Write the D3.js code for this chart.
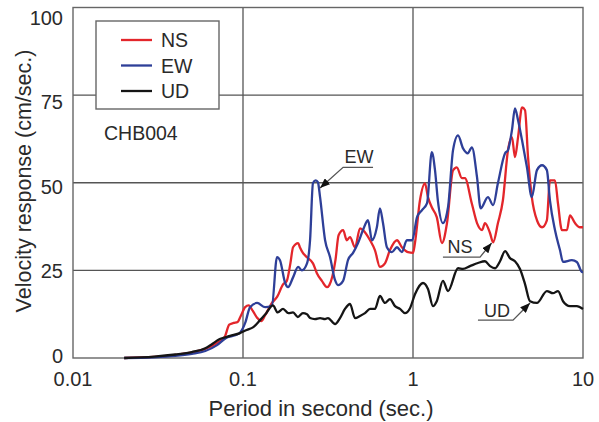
<!DOCTYPE html>
<html>
<head>
<meta charset="utf-8">
<script src="https://cdn.jsdelivr.net/npm/d3@7"></script>
<style>
  body { margin: 0; background: #fff; }
  text { font-family: "Liberation Sans", Arial, sans-serif; fill: #2a2a2a; }
</style>
</head>
<body>
<div id="chart"></div>
<script>
// period (sec.), velocity response (cm/sec.)
var ns = [[0.02,0],[0.03,0.3],[0.04,0.9],[0.05,1.6],[0.06,2.6],[0.07,4.2],[0.078,6],[0.083,9.5],[0.088,10],[0.093,10.3],
  [0.097,12],[0.103,14.5],[0.108,15],[0.114,13.5],[0.121,11.5],[0.128,10.5],[0.135,12.2],[0.148,15.7],[0.159,17.5],[0.172,21],
  [0.181,22],[0.19,27],[0.197,31.6],[0.211,32.8],[0.216,31.6],[0.225,30],[0.237,28.8],[0.258,27],[0.272,24.2],[0.291,22],
  [0.312,20.2],[0.322,20.8],[0.35,28],[0.365,35],[0.388,36.5],[0.408,33.6],[0.426,34.5],[0.456,31.6],[0.488,37],[0.508,36.5],
  [0.559,33.6],[0.597,30.8],[0.639,26],[0.684,27],[0.732,30.8],[0.805,33.6],[0.86,31.6],[0.935,30.2],[1.0,30],[1.027,32.8],
  [1.099,45],[1.176,49.8],[1.225,45.9],[1.29,43],[1.38,40.2],[1.48,32.8],[1.585,38.5],[1.719,53.5],[1.81,54.4],[1.94,51.3],
  [2.02,51.3],[2.22,44],[2.38,38.5],[2.55,36.5],[2.65,38.5],[2.84,35.6],[2.96,33],[3.16,38.5],[3.38,45],[3.62,59.3],
  [3.82,63],[3.98,57.3],[4.15,63],[4.38,71.5],[4.56,70.7],[4.75,57.3],[5.0,45.9],[5.36,39.3],[5.74,37.3],[6.13,39.3],
  [6.39,50.7],[6.84,50.7],[7.13,44],[7.52,36.5],[8.05,36.5],[8.38,40.7],[8.97,38.5],[9.6,37.3],[10,37.3]];

var ew = [[0.02,0],[0.03,0.2],[0.04,0.6],[0.05,1.2],[0.06,2],[0.07,3.6],[0.08,5.8],[0.09,6.5],[0.096,7.2],[0.103,10],
  [0.11,14.5],[0.121,15.7],[0.135,14.5],[0.148,15],[0.1585,28.8],[0.165,27.9],[0.177,21.4],[0.184,20.2],[0.197,23],[0.211,26],
  [0.222,25],[0.238,27],[0.248,33.6],[0.258,49.9],[0.268,50.7],[0.276,50.1],[0.284,45.9],[0.304,33.6],[0.325,28.8],[0.348,22.2],
  [0.362,20.8],[0.388,22],[0.415,28],[0.444,30],[0.475,32.8],[0.508,36.5],[0.5435,39.3],[0.574,33.6],[0.613,37.3],[0.639,42.7],
  [0.666,38.5],[0.702,31.6],[0.752,30.2],[0.805,31.6],[0.86,30.2],[0.92,33.6],[0.99,33.6],[1.056,40.2],[1.13,42.2],[1.21,44.2],
  [1.29,58.7],[1.347,53.6],[1.4,45],[1.5,38.5],[1.607,43],[1.72,59.3],[1.84,63.5],[1.97,59.8],[2.1,58.4],[2.22,60.1],
  [2.38,51.6],[2.5,42.7],[2.76,45.9],[2.96,43.6],[3.16,49.9],[3.48,58.4],[3.62,59.3],[3.82,65],[3.98,71.2],[4.15,67.8],
  [4.38,62.1],[4.68,54.4],[5.0,45.9],[5.36,53.6],[5.74,55],[6.13,53.6],[6.39,45],[6.84,36.5],[7.32,30.8],[7.63,27.4],
  [8.6,27.9],[9.2,27.4],[9.9,24.5],[10,24.5]];

var ud = [[0.02,0],[0.03,0.4],[0.04,1],[0.05,1.7],[0.06,2.8],[0.065,3.8],[0.073,5.4],[0.084,6.3],[0.096,7.1],[0.105,8],
  [0.115,8.8],[0.126,10.8],[0.137,12.8],[0.15,15],[0.16,13],[0.172,14],[0.185,12.8],[0.197,13],[0.21,11.7],[0.225,12.8],
  [0.238,12.5],[0.248,11.4],[0.265,11.1],[0.284,11.4],[0.304,11.1],[0.316,11.4],[0.348,9.7],[0.372,11.4],[0.398,14],[0.426,15.4],
  [0.456,11.4],[0.488,12],[0.522,12.8],[0.559,14],[0.597,14],[0.639,17.7],[0.684,15.7],[0.732,16.8],[0.784,14.8],[0.838,14],
  [0.897,12.8],[0.96,14.2],[1.027,18.2],[1.145,21.4],[1.225,19.7],[1.311,14.8],[1.38,16.2],[1.5,22],[1.607,19.1],[1.84,25.6],
  [1.968,25.4],[2.163,26.2],[2.41,27.1],[2.65,27.6],[2.84,26.2],[3.04,25.6],[3.25,27.6],[3.48,30.5],[3.72,28.5],[3.98,27.6],
  [4.26,25.4],[4.56,21.1],[4.88,16.2],[5.36,15.7],[6.13,19.1],[6.66,18.5],[7.13,19.1],[7.63,16.2],[8.38,14.8],[9.2,14.8],[10,14]];

var xTicks = [0.01, 0.1, 1, 10];
var xTickLabels = ["0.01", "0.1", "1", "10"];
var yTicks = [0, 25, 50, 75, 100];

var series = [
  {name: "NS", color: "#e3262b", data: ns},
  {name: "EW", color: "#2e3f98", data: ew},
  {name: "UD", color: "#151515", data: ud}
];

// arrows: tip, elbow, end of underline, text anchor (all in data units)
var notes = [
  {label: "EW", tip: [0.284, 48.5], elbow: [0.388, 54.4], end: [0.582, 54.4], at: [0.481, 55.6]},
  {label: "NS", tip: [2.9, 32.8], elbow: [2.48, 28.8], end: [1.5, 28.8], at: [1.89, 29.9]},
  {label: "UD", tip: [4.88, 15.7], elbow: [3.875, 10.8], end: [2.41, 10.8], at: [3.12, 11.7]}
];

var svg = d3.select("#chart")
  .append("svg")
  .attr("width", 599)
  .attr("height", 422);

var x = d3.scaleLog().domain([0.01, 10]).range([73, 583]);
var y = d3.scaleLinear().domain([0, 100]).range([358, 7.5]);
// tick labels in the reference sit on a slightly tighter spacing than the grid
var yLab = d3.scaleLinear().domain([0, 100]).range([356, 17.5]);

svg.append("defs").append("marker")
  .attr("id", "arrow")
  .attr("viewBox", "0 0 10 8")
  .attr("refX", 10).attr("refY", 4)
  .attr("markerWidth", 10).attr("markerHeight", 8)
  .attr("markerUnits", "userSpaceOnUse")
  .attr("orient", "auto")
  .append("path")
  .attr("d", "M0,0L10,4L0,8Z")
  .attr("fill", "#111");

// grid
svg.selectAll(".vgrid")
  .data([0.1, 1])
  .enter().append("line")
  .attr("x1", function(d){ return x(d); })
  .attr("x2", function(d){ return x(d); })
  .attr("y1", y(0)).attr("y2", y(100))
  .attr("stroke", "#555").attr("stroke-width", 1.3);

svg.selectAll(".hgrid")
  .data([25, 50, 75])
  .enter().append("line")
  .attr("x1", x(0.01)).attr("x2", x(10))
  .attr("y1", function(d){ return y(d); })
  .attr("y2", function(d){ return y(d); })
  .attr("stroke", "#555").attr("stroke-width", 1.3);

svg.append("rect")
  .attr("x", x(0.01)).attr("y", y(100))
  .attr("width", x(10) - x(0.01))
  .attr("height", y(0) - y(100))
  .attr("fill", "none")
  .attr("stroke", "#666").attr("stroke-width", 1.4);

// tick labels
svg.selectAll(".xlab")
  .data(xTicks)
  .enter().append("text")
  .attr("x", function(d){ return x(d); })
  .attr("y", 386)
  .attr("text-anchor", "middle")
  .style("font-size", "20px")
  .text(function(d, i){ return xTickLabels[i]; });

svg.selectAll(".ylab")
  .data(yTicks)
  .enter().append("text")
  .attr("x", 63)
  .attr("y", function(d){ return yLab(d) + 7; })
  .attr("text-anchor", "end")
  .style("font-size", "20px")
  .text(function(d){ return d; });

svg.append("text")
  .attr("x", 321).attr("y", 416)
  .attr("text-anchor", "middle")
  .style("font-size", "22px")
  .text("Period in second (sec.)");

svg.append("text")
  .attr("transform", "translate(31,181) rotate(-90)")
  .attr("text-anchor", "middle")
  .style("font-size", "21.5px")
  .text("Velocity response (cm/sec.)");

// curves
var line = d3.line()
  .x(function(d){ return x(d[0]); })
  .y(function(d){ return y(d[1]); })
  .curve(d3.curveMonotoneX);

svg.selectAll(".series")
  .data(series)
  .enter().append("path")
  .attr("d", function(d){ return line(d.data); })
  .attr("fill", "none")
  .attr("stroke", function(d){ return d.color; })
  .attr("stroke-width", 2.3)
  .attr("stroke-linejoin", "round");

// annotations
notes.forEach(function(n){
  svg.append("path")
    .attr("d", "M" + x(n.end[0]) + "," + y(n.end[1]) +
               "L" + x(n.elbow[0]) + "," + y(n.elbow[1]) +
               "L" + x(n.tip[0]) + "," + y(n.tip[1]))
    .attr("fill", "none")
    .attr("stroke", "#555")
    .attr("stroke-width", 1.3)
    .attr("marker-end", "url(#arrow)");
  svg.append("text")
    .attr("x", x(n.at[0])).attr("y", y(n.at[1]))
    .attr("text-anchor", "middle")
    .style("font-size", "18px")
    .text(n.label);
});

// legend
svg.append("rect")
  .attr("x", 96).attr("y", 21)
  .attr("width", 123).attr("height", 88)
  .attr("fill", "#fff")
  .attr("stroke", "#666").attr("stroke-width", 1.4);

var leg = svg.selectAll(".leg")
  .data(series)
  .enter().append("g")
  .attr("transform", function(d, i){ return "translate(0," + (40 + i * 25.5) + ")"; });

leg.append("line")
  .attr("x1", 121).attr("x2", 152)
  .attr("stroke", function(d){ return d.color; })
  .attr("stroke-width", 2.3);

leg.append("text")
  .attr("x", 161).attr("y", 7)
  .style("font-size", "19.5px")
  .text(function(d){ return d.name; });

svg.append("text")
  .attr("x", 104).attr("y", 140)
  .style("font-size", "19.5px")
  .text("CHB004");
</script>
</body>
</html>
